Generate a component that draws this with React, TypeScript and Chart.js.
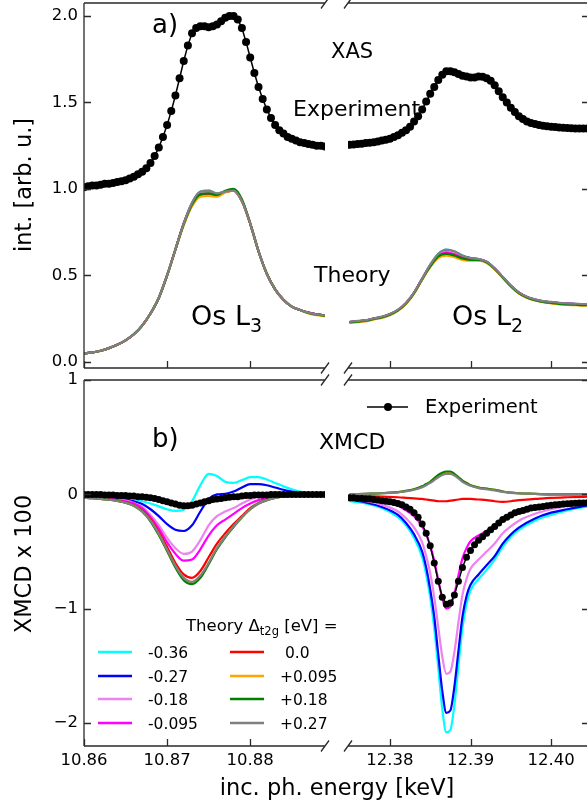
import { useEffect, useRef } from "react";
import { Chart, registerables } from "chart.js";
Chart.register(...registerables);

const OFF = 30;
const CW = 660;
const CH = 865;
const FONT = "'DejaVu Sans', 'Liberation Sans', sans-serif";
const SPINE = "#2a2a2a";

// ---------- sampling grids (keV) ----------
function grid(a: number, step: number, n: number) {
  const out: number[] = [];
  for (let i = 0; i < n; i++) out.push(Math.round((a + i * step) * 1e5) / 1e5);
  return out;
}
const xL3 = grid(10.86, 0.001, 30); // theory L3
const xL2 = grid(12.375, 0.001, 31); // theory XAS L2
const xExpL3 = grid(10.86, 0.0005, 59);
const xExpL2 = grid(12.375, 0.0005, 61);
const xMcdL2 = [12.375, 12.377, 12.379, 12.381, 12.382, 12.383, 12.384, 12.3845, 12.385, 12.3855, 12.386, 12.3865, 12.387, 12.3875, 12.388, 12.3885, 12.389, 12.3895, 12.39, 12.391, 12.392, 12.393, 12.394, 12.395, 12.396, 12.398, 12.4, 12.402, 12.405];

// ---------- tick labels ----------
const xTicksL3 = [10.86, 10.87, 10.88];
const xTicksL2 = [12.38, 12.39, 12.40];
const yTicksXas = [0.0, 0.5, 1.0, 1.5, 2.0];
const yTicksMcd = [1, 0, -1, -2];

// ---------- legend ----------
const thLabels = ["-0.36", "-0.27", "-0.18", "-0.095", " 0.0", "+0.095", "+0.18", "+0.27"];
const thColors = ["#00ffff", "#0000ff", "#ee82ee", "#ff00ff", "#ff0000", "#ffa500", "#008000", "#808080"];

// ---------- XAS experiment ----------
const xasExpL3 = [1.01, 1.015, 1.02, 1.02, 1.025, 1.03, 1.03, 1.035, 1.04, 1.045, 1.05, 1.06, 1.07, 1.085, 1.10, 1.12, 1.15, 1.19, 1.24, 1.30, 1.37, 1.45, 1.54, 1.64, 1.74, 1.83, 1.90, 1.93, 1.94, 1.94, 1.935, 1.94, 1.95, 1.97, 1.99, 2.0, 2.0, 1.98, 1.93, 1.85, 1.76, 1.67, 1.59, 1.52, 1.46, 1.41, 1.37, 1.34, 1.32, 1.30, 1.29, 1.28, 1.27, 1.265, 1.26, 1.255, 1.25, 1.25, 1.245];
const xasExpL2 = [1.255, 1.257, 1.26, 1.262, 1.265, 1.267, 1.27, 1.275, 1.28, 1.285, 1.29, 1.30, 1.31, 1.325, 1.34, 1.36, 1.39, 1.42, 1.46, 1.505, 1.55, 1.59, 1.63, 1.66, 1.68, 1.68, 1.675, 1.665, 1.655, 1.65, 1.645, 1.645, 1.65, 1.648, 1.64, 1.625, 1.60, 1.565, 1.53, 1.50, 1.47, 1.445, 1.42, 1.405, 1.39, 1.382, 1.375, 1.37, 1.365, 1.362, 1.36, 1.358, 1.355, 1.354, 1.352, 1.351, 1.35, 1.35, 1.35, 1.35, 1.35];

// ---------- XAS theory, L3 ----------
const xasL3Cyan = [0.05, 0.055, 0.065, 0.08, 0.10, 0.125, 0.16, 0.21, 0.28, 0.37, 0.50, 0.65, 0.80, 0.92, 0.985, 0.99, 0.975, 0.985, 0.99, 0.93, 0.80, 0.64, 0.51, 0.42, 0.36, 0.32, 0.30, 0.285, 0.275, 0.27];
const xasL3Blue = [0.05, 0.055, 0.065, 0.08, 0.10, 0.125, 0.16, 0.21, 0.28, 0.37, 0.50, 0.65, 0.80, 0.918, 0.98, 0.985, 0.97, 0.983, 0.99, 0.93, 0.80, 0.64, 0.51, 0.42, 0.36, 0.32, 0.30, 0.285, 0.275, 0.27];
const xasL3Violet = [0.05, 0.055, 0.065, 0.08, 0.10, 0.125, 0.16, 0.21, 0.28, 0.37, 0.50, 0.65, 0.80, 0.915, 0.975, 0.98, 0.965, 0.982, 0.99, 0.93, 0.80, 0.64, 0.51, 0.42, 0.36, 0.32, 0.30, 0.285, 0.275, 0.27];
const xasL3Magenta = [0.05, 0.055, 0.065, 0.08, 0.10, 0.125, 0.16, 0.21, 0.28, 0.37, 0.50, 0.65, 0.80, 0.91, 0.965, 0.97, 0.96, 0.982, 0.99, 0.93, 0.80, 0.64, 0.51, 0.42, 0.36, 0.32, 0.30, 0.285, 0.275, 0.27];
const xasL3Red = [0.05, 0.055, 0.065, 0.08, 0.10, 0.125, 0.16, 0.21, 0.28, 0.37, 0.50, 0.65, 0.80, 0.905, 0.96, 0.965, 0.958, 0.982, 0.99, 0.93, 0.80, 0.64, 0.51, 0.42, 0.36, 0.32, 0.30, 0.285, 0.275, 0.27];
const xasL3Orange = [0.05, 0.055, 0.065, 0.08, 0.10, 0.125, 0.16, 0.21, 0.28, 0.37, 0.50, 0.65, 0.79, 0.90, 0.955, 0.96, 0.955, 0.98, 0.99, 0.93, 0.80, 0.64, 0.51, 0.42, 0.36, 0.32, 0.30, 0.28, 0.27, 0.265];
const xasL3Green = [0.05, 0.055, 0.065, 0.08, 0.10, 0.125, 0.16, 0.21, 0.28, 0.37, 0.50, 0.65, 0.795, 0.91, 0.97, 0.975, 0.965, 0.99, 1.0, 0.94, 0.80, 0.64, 0.51, 0.42, 0.36, 0.32, 0.30, 0.283, 0.273, 0.268];
const xasL3Gray = [0.05, 0.055, 0.065, 0.08, 0.10, 0.125, 0.16, 0.21, 0.28, 0.37, 0.50, 0.65, 0.80, 0.92, 0.985, 0.99, 0.975, 0.985, 0.99, 0.93, 0.80, 0.64, 0.51, 0.42, 0.36, 0.32, 0.30, 0.285, 0.275, 0.27];

// ---------- XAS theory, L2 ----------
const xasL2Cyan = [0.23, 0.235, 0.24, 0.25, 0.26, 0.275, 0.30, 0.34, 0.40, 0.48, 0.56, 0.625, 0.65, 0.64, 0.615, 0.60, 0.595, 0.58, 0.54, 0.49, 0.44, 0.40, 0.375, 0.36, 0.35, 0.345, 0.34, 0.337, 0.335, 0.333, 0.332];
const xasL2Blue = [0.23, 0.235, 0.24, 0.25, 0.26, 0.275, 0.30, 0.34, 0.40, 0.48, 0.56, 0.62, 0.645, 0.635, 0.612, 0.60, 0.595, 0.58, 0.54, 0.49, 0.44, 0.40, 0.375, 0.36, 0.35, 0.345, 0.34, 0.337, 0.335, 0.333, 0.332];
const xasL2Violet = [0.23, 0.235, 0.24, 0.25, 0.26, 0.275, 0.30, 0.34, 0.40, 0.48, 0.56, 0.618, 0.64, 0.63, 0.61, 0.598, 0.594, 0.58, 0.54, 0.49, 0.44, 0.40, 0.375, 0.36, 0.35, 0.345, 0.34, 0.337, 0.335, 0.333, 0.332];
const xasL2Magenta = [0.23, 0.235, 0.24, 0.25, 0.26, 0.275, 0.30, 0.34, 0.40, 0.48, 0.555, 0.612, 0.632, 0.622, 0.602, 0.594, 0.592, 0.578, 0.54, 0.49, 0.44, 0.40, 0.375, 0.36, 0.35, 0.345, 0.34, 0.337, 0.335, 0.333, 0.332];
const xasL2Red = [0.23, 0.235, 0.24, 0.25, 0.26, 0.275, 0.30, 0.34, 0.40, 0.478, 0.552, 0.608, 0.627, 0.617, 0.598, 0.59, 0.588, 0.576, 0.538, 0.49, 0.44, 0.40, 0.373, 0.358, 0.348, 0.342, 0.337, 0.334, 0.332, 0.33, 0.33];
const xasL2Orange = [0.225, 0.23, 0.235, 0.245, 0.255, 0.27, 0.295, 0.335, 0.395, 0.475, 0.548, 0.60, 0.615, 0.605, 0.59, 0.585, 0.585, 0.572, 0.535, 0.485, 0.435, 0.395, 0.37, 0.355, 0.345, 0.338, 0.333, 0.33, 0.328, 0.326, 0.325];
const xasL2Green = [0.228, 0.233, 0.238, 0.248, 0.258, 0.273, 0.298, 0.338, 0.398, 0.478, 0.552, 0.61, 0.625, 0.615, 0.598, 0.59, 0.59, 0.576, 0.538, 0.488, 0.438, 0.398, 0.372, 0.357, 0.347, 0.341, 0.336, 0.333, 0.331, 0.329, 0.328];
const xasL2Gray = [0.232, 0.237, 0.242, 0.252, 0.262, 0.277, 0.302, 0.342, 0.402, 0.482, 0.562, 0.625, 0.65, 0.64, 0.615, 0.60, 0.595, 0.58, 0.542, 0.492, 0.442, 0.402, 0.377, 0.362, 0.352, 0.347, 0.342, 0.339, 0.337, 0.335, 0.334];

// ---------- XMCD experiment ----------
const mcdExpL3 = [0.0, 0.0, 0.0, 0.0, 0.0, -0.005, -0.005, -0.005, -0.01, -0.01, -0.01, -0.015, -0.015, -0.02, -0.02, -0.025, -0.03, -0.035, -0.045, -0.055, -0.065, -0.075, -0.085, -0.095, -0.1, -0.1, -0.095, -0.085, -0.075, -0.065, -0.055, -0.045, -0.04, -0.035, -0.03, -0.025, -0.02, -0.02, -0.015, -0.01, -0.01, -0.005, -0.005, -0.005, -0.005, 0.0, 0.0, 0.0, 0.0, 0.0, 0.0, 0.0, 0.0, 0.0, 0.0, 0.0, 0.0, 0.0, 0.0];
const mcdExpL2 = [-0.03, -0.03, -0.035, -0.035, -0.04, -0.04, -0.045, -0.05, -0.055, -0.06, -0.065, -0.07, -0.08, -0.09, -0.11, -0.13, -0.16, -0.2, -0.26, -0.34, -0.45, -0.6, -0.76, -0.9, -0.96, -0.95, -0.88, -0.76, -0.64, -0.55, -0.49, -0.44, -0.4, -0.37, -0.34, -0.31, -0.28, -0.25, -0.22, -0.2, -0.18, -0.16, -0.15, -0.14, -0.13, -0.12, -0.115, -0.11, -0.105, -0.1, -0.095, -0.09, -0.088, -0.085, -0.083, -0.08, -0.078, -0.076, -0.075, -0.074, -0.073];

// ---------- XMCD theory, L3 ----------
const mcdL3Cyan = [-0.01, -0.01, -0.015, -0.02, -0.025, -0.03, -0.04, -0.06, -0.08, -0.105, -0.13, -0.145, -0.135, -0.06, 0.08, 0.18, 0.16, 0.11, 0.10, 0.125, 0.15, 0.15, 0.13, 0.10, 0.07, 0.045, 0.025, 0.012, 0.005, 0.0];
const mcdL3Blue = [-0.02, -0.022, -0.025, -0.03, -0.035, -0.045, -0.06, -0.085, -0.13, -0.19, -0.26, -0.31, -0.32, -0.27, -0.15, -0.04, 0.0, 0.005, 0.025, 0.06, 0.09, 0.09, 0.08, 0.06, 0.04, 0.025, 0.012, 0.006, 0.002, 0.0];
const mcdL3Violet = [-0.025, -0.028, -0.032, -0.038, -0.045, -0.055, -0.075, -0.11, -0.18, -0.27, -0.38, -0.47, -0.52, -0.5, -0.4, -0.27, -0.19, -0.15, -0.12, -0.08, -0.045, -0.02, -0.01, -0.005, 0.0, 0.0, 0.0, 0.0, 0.0, 0.0];
const mcdL3Magenta = [-0.025, -0.03, -0.035, -0.04, -0.05, -0.06, -0.08, -0.12, -0.2, -0.3, -0.42, -0.52, -0.58, -0.57, -0.48, -0.36, -0.27, -0.22, -0.17, -0.12, -0.08, -0.05, -0.03, -0.02, -0.012, -0.007, -0.004, -0.002, -0.001, 0.0];
const mcdL3Red = [-0.03, -0.033, -0.038, -0.045, -0.055, -0.07, -0.095, -0.14, -0.22, -0.33, -0.46, -0.6, -0.7, -0.73, -0.67, -0.55, -0.43, -0.34, -0.26, -0.19, -0.12, -0.075, -0.045, -0.028, -0.017, -0.01, -0.006, -0.003, -0.001, 0.0];
const mcdL3Orange = [-0.03, -0.034, -0.04, -0.047, -0.058, -0.073, -0.1, -0.15, -0.23, -0.35, -0.49, -0.63, -0.74, -0.775, -0.72, -0.6, -0.47, -0.37, -0.28, -0.2, -0.13, -0.08, -0.05, -0.03, -0.018, -0.01, -0.006, -0.003, -0.001, 0.0];
const mcdL3Green = [-0.03, -0.034, -0.04, -0.047, -0.058, -0.073, -0.1, -0.15, -0.235, -0.355, -0.495, -0.64, -0.75, -0.785, -0.73, -0.61, -0.48, -0.375, -0.285, -0.2, -0.13, -0.08, -0.05, -0.03, -0.018, -0.01, -0.006, -0.003, -0.001, 0.0];
const mcdL3Gray = [-0.03, -0.034, -0.04, -0.047, -0.058, -0.073, -0.1, -0.15, -0.23, -0.345, -0.485, -0.625, -0.73, -0.765, -0.71, -0.6, -0.47, -0.37, -0.28, -0.2, -0.13, -0.08, -0.05, -0.03, -0.018, -0.01, -0.006, -0.003, -0.001, 0.0];

// ---------- XMCD theory, L2 ----------
const mcdL2Cyan = [-0.06, -0.08, -0.12, -0.2, -0.27, -0.38, -0.55, -0.7, -0.9, -1.17, -1.52, -1.88, -2.08, -2.06, -1.84, -1.5, -1.17, -0.96, -0.84, -0.74, -0.66, -0.57, -0.46, -0.37, -0.31, -0.23, -0.18, -0.14, -0.1];
const mcdL2Blue = [-0.05, -0.07, -0.11, -0.18, -0.25, -0.35, -0.5, -0.64, -0.83, -1.07, -1.4, -1.72, -1.91, -1.89, -1.68, -1.37, -1.07, -0.89, -0.79, -0.7, -0.62, -0.54, -0.43, -0.35, -0.29, -0.21, -0.16, -0.13, -0.09];
const mcdL2Violet = [-0.05, -0.06, -0.09, -0.15, -0.21, -0.29, -0.42, -0.54, -0.69, -0.9, -1.16, -1.42, -1.57, -1.55, -1.38, -1.12, -0.88, -0.74, -0.65, -0.57, -0.5, -0.43, -0.34, -0.28, -0.23, -0.17, -0.13, -0.1, -0.075];
const mcdL2Magenta = [-0.04, -0.05, -0.07, -0.1, -0.14, -0.19, -0.28, -0.35, -0.45, -0.58, -0.75, -0.91, -1.0, -0.98, -0.87, -0.71, -0.56, -0.47, -0.41, -0.36, -0.32, -0.28, -0.22, -0.18, -0.15, -0.11, -0.09, -0.075, -0.06];
const mcdL2Red = [-0.01, -0.015, -0.02, -0.025, -0.03, -0.035, -0.04, -0.045, -0.05, -0.055, -0.06, -0.06, -0.06, -0.055, -0.05, -0.045, -0.04, -0.04, -0.04, -0.045, -0.05, -0.06, -0.065, -0.06, -0.05, -0.04, -0.03, -0.025, -0.02];
const mcdL2Orange = [0.0, 0.005, 0.01, 0.02, 0.03, 0.045, 0.07, 0.09, 0.11, 0.14, 0.165, 0.185, 0.195, 0.195, 0.175, 0.15, 0.12, 0.1, 0.08, 0.06, 0.05, 0.04, 0.025, 0.015, 0.01, 0.005, 0.0, 0.0, 0.0];
const mcdL2Green = [0.0, 0.005, 0.01, 0.02, 0.03, 0.045, 0.07, 0.09, 0.11, 0.14, 0.17, 0.19, 0.2, 0.2, 0.18, 0.15, 0.12, 0.1, 0.08, 0.06, 0.05, 0.04, 0.025, 0.015, 0.01, 0.005, 0.0, 0.0, 0.0];
const mcdL2Gray = [0.0, 0.005, 0.01, 0.018, 0.027, 0.04, 0.063, 0.08, 0.1, 0.125, 0.15, 0.17, 0.18, 0.18, 0.165, 0.14, 0.11, 0.09, 0.075, 0.055, 0.045, 0.035, 0.022, 0.013, 0.008, 0.004, 0.0, 0.0, 0.0];

const xasL3Theory = [xasL3Cyan, xasL3Blue, xasL3Violet, xasL3Magenta, xasL3Red, xasL3Orange, xasL3Green, xasL3Gray];
const xasL2Theory = [xasL2Cyan, xasL2Blue, xasL2Violet, xasL2Magenta, xasL2Red, xasL2Orange, xasL2Green, xasL2Gray];
const mcdL3Theory = [mcdL3Cyan, mcdL3Blue, mcdL3Violet, mcdL3Magenta, mcdL3Red, mcdL3Orange, mcdL3Green, mcdL3Gray];
const mcdL2Theory = [mcdL2Cyan, mcdL2Blue, mcdL2Violet, mcdL2Magenta, mcdL2Red, mcdL2Orange, mcdL2Green, mcdL2Gray];

// ---------- dataset helpers ----------
function theoryDatasets(xs: number[], series: number[][]) {
  return series.map((ys, i) => ({
    data: xs.map((x, j) => ({ x, y: ys[j] })),
    borderColor: thColors[i],
    backgroundColor: thColors[i],
    borderWidth: 2.2,
    pointRadius: 0,
    fill: false,
    cubicInterpolationMode: "monotone",
    order: 8 - i,
  }));
}
function expDataset(xs: number[], ys: number[], r: number) {
  return {
    data: xs.map((x, j) => ({ x, y: ys[j] })),
    borderColor: "#000",
    backgroundColor: "#000",
    borderWidth: 1.5,
    pointRadius: r,
    pointBorderWidth: 0,
    pointBackgroundColor: "#000",
    fill: false,
    order: 0,
  };
}

type Area = { l: number; t: number; r: number; b: number };
const YW = 50;
const XH = 40;

function framePlugin(side: "left" | "right", tickVals: number[], xTickVals: number[]) {
  return {
    id: "frame" + side,
    afterDraw(chart: any) {
      const { ctx, chartArea: ca } = chart;
      const xs = chart.scales.x;
      const ys = chart.scales.y;
      ctx.save();
      ctx.strokeStyle = SPINE;
      ctx.lineWidth = 1.3;
      ctx.lineCap = "butt";
      ctx.beginPath();
      ctx.moveTo(ca.left, ca.top);
      ctx.lineTo(ca.right, ca.top);
      ctx.moveTo(ca.left, ca.bottom);
      ctx.lineTo(ca.right, ca.bottom);
      const sx = side === "left" ? ca.left : ca.right;
      ctx.moveTo(sx, ca.top);
      ctx.lineTo(sx, ca.bottom);
      const dir = side === "left" ? 1 : -1;
      for (const v of tickVals) {
        const py = Math.round(ys.getPixelForValue(v)) + 0.5;
        ctx.moveTo(sx, py);
        ctx.lineTo(sx + dir * 7, py);
      }
      for (const v of xTickVals) {
        const px = Math.round(xs.getPixelForValue(v)) + 0.5;
        ctx.moveTo(px, ca.bottom);
        ctx.lineTo(px, ca.bottom - 7);
      }
      const bx = side === "left" ? ca.right : ca.left;
      for (const y of [ca.top, ca.bottom]) {
        ctx.moveTo(bx - 4, y + 5.5);
        ctx.lineTo(bx + 4, y - 5.5);
      }
      ctx.stroke();
      ctx.restore();
    },
  };
}

function richText(ctx: CanvasRenderingContext2D, parts: [string, number, number][], x: number, y: number) {
  let cx = x + OFF;
  for (const [s, size, dy] of parts) {
    ctx.font = `${size}px ${FONT}`;
    ctx.fillText(s, cx, y + OFF + dy);
    cx += ctx.measureText(s).width;
  }
}

const annotPlugin = {
  id: "annot",
  afterDraw(chart: any) {
    const ctx: CanvasRenderingContext2D = chart.ctx;
    ctx.save();
    ctx.fillStyle = "#000";
    ctx.textBaseline = "alphabetic";
    ctx.textAlign = "left";
    richText(ctx, [["a)", 26, 0]], 152, 33);
    richText(ctx, [["b)", 26, 0]], 152, 447);
    richText(ctx, [["XAS", 21, 0]], 331, 58);
    richText(ctx, [["Experiment", 22, 0]], 293, 116);
    richText(ctx, [["Theory", 22, 0]], 314, 282);
    richText(ctx, [["XMCD", 22, 0]], 319, 449);
    richText(ctx, [["Os L", 27, 0], ["3", 19, 7]], 191, 325);
    richText(ctx, [["Os L", 27, 0], ["2", 19, 7]], 452, 325);
    // theory legend
    richText(ctx, [["Theory \u0394", 16.5, 0], ["t2g", 11.5, 4], [" [eV] =", 16.5, 0]], 186, 631);
    const rows = [652, 676, 699, 723];
    for (let i = 0; i < 8; i++) {
      const col = i < 4 ? 0 : 1;
      const cy = rows[i % 4];
      const lx = col === 0 ? 98 : 230;
      ctx.strokeStyle = thColors[i];
      ctx.lineWidth = 2.5;
      ctx.beginPath();
      ctx.moveTo(lx + OFF, cy + OFF);
      ctx.lineTo(lx + 34 + OFF, cy + OFF);
      ctx.stroke();
      ctx.fillStyle = "#000";
      richText(ctx, [[thLabels[i], 15.5, 0]], col === 0 ? 148 : 280, cy + 5.5);
    }
    // experiment legend
    ctx.strokeStyle = "#000";
    ctx.lineWidth = 1.5;
    ctx.beginPath();
    ctx.moveTo(367 + OFF, 407 + OFF);
    ctx.lineTo(408 + OFF, 407 + OFF);
    ctx.stroke();
    ctx.beginPath();
    ctx.arc(388 + OFF, 407 + OFF, 4, 0, Math.PI * 2);
    ctx.fill();
    richText(ctx, [["Experiment", 19.5, 0]], 425, 413);
    // axis titles
    ctx.font = `22.5px ${FONT}`;
    ctx.textAlign = "center";
    ctx.fillText("inc. ph. energy [keV]", 337 + OFF, 795 + OFF);
    for (const [s, cy] of [["int. [arb. u.]", 185], ["XMCD x 100", 564]] as [string, number][]) {
      ctx.save();
      ctx.translate(31 + OFF, cy + OFF);
      ctx.rotate(-Math.PI / 2);
      ctx.fillText(s, 0, 0);
      ctx.restore();
    }
    ctx.restore();
  },
};

function makeConfig(opts: {
  datasets: any[];
  xMin: number;
  xMax: number;
  yMin: number;
  yMax: number;
  yStep: number;
  yTicks: number[];
  yFmt: (v: number) => string;
  xTicks: number[];
  side: "left" | "right";
  showX: boolean;
  area: Area;
  extra?: any[];
}) {
  const { area, side, showX } = opts;
  const padding = {
    left: side === "left" ? area.l + OFF - YW : area.l + OFF,
    right: CW - (area.r + OFF),
    top: area.t + OFF,
    bottom: CH - (area.b + OFF) - (showX ? XH : 0),
  };
  return {
    type: "line",
    data: { datasets: opts.datasets },
    options: {
      animation: false,
      responsive: false,
      maintainAspectRatio: false,
      devicePixelRatio: 1,
      events: [],
      layout: { padding },
      plugins: { legend: { display: false }, tooltip: { enabled: false } },
      scales: {
        x: {
          type: "linear",
          position: "bottom",
          min: opts.xMin,
          max: opts.xMax,
          grid: { display: false, drawTicks: false },
          border: { display: false },
          ticks: {
            display: showX,
            stepSize: 0.01,
            includeBounds: false,
            autoSkip: false,
            maxRotation: 0,
            padding: 5,
            color: "#000",
            font: { family: FONT, size: 16.5 },
            callback: (v: number) => Number(v).toFixed(2),
          },
          afterFit: (s: any) => {
            s.height = showX ? XH : 0;
          },
        },
        y: {
          type: "linear",
          position: side,
          min: opts.yMin,
          max: opts.yMax,
          grid: { display: false, drawTicks: false },
          border: { display: false },
          ticks: {
            display: side === "left",
            stepSize: opts.yStep,
            includeBounds: false,
            autoSkip: false,
            padding: 6,
            color: "#000",
            font: { family: FONT, size: 16.5 },
            callback: (v: number) => opts.yFmt(Number(v)),
          },
          afterFit: (s: any) => {
            s.width = side === "left" ? YW : 0;
          },
        },
      },
    },
    plugins: [framePlugin(side, opts.yTicks, opts.xTicks), ...(opts.extra || [])],
  };
}

const fmtXas = (v: number) => v.toFixed(1);
const fmtMcd = (v: number) => (v < 0 ? "\u2212" + Math.abs(Math.round(v)) : String(Math.round(v)));

const X_L3 = { xMin: 10.86, xMax: 10.889 };
const X_L2 = { xMin: 12.3748, xMax: 12.4047 };
const Y_XAS = { yMin: -0.035, yMax: 2.075, yStep: 0.5 };
const Y_MCD = { yMin: -2.2, yMax: 1.0, yStep: 1 };

export default function App() {
  const r1 = useRef<HTMLCanvasElement>(null);
  const r2 = useRef<HTMLCanvasElement>(null);
  const r3 = useRef<HTMLCanvasElement>(null);
  const r4 = useRef<HTMLCanvasElement>(null);

  useEffect(() => {
    const charts: Chart[] = [];
    const c1 = makeConfig({
      datasets: [expDataset(xExpL3, xasExpL3, 4), ...theoryDatasets(xL3, xasL3Theory)],
      ...X_L3,
      ...Y_XAS,
      yTicks: yTicksXas,
      yFmt: fmtXas,
      xTicks: xTicksL3,
      side: "left",
      showX: false,
      area: { l: 84, t: 3, r: 325, b: 368 },
    });
    const c2 = makeConfig({
      datasets: [expDataset(xExpL2, xasExpL2, 4), ...theoryDatasets(xL2, xasL2Theory)],
      ...X_L2,
      ...Y_XAS,
      yTicks: yTicksXas,
      yFmt: fmtXas,
      xTicks: xTicksL2,
      side: "right",
      showX: false,
      area: { l: 348, t: 3, r: 589, b: 368 },
    });
    const c3 = makeConfig({
      datasets: [expDataset(xExpL3, mcdExpL3, 3.5), ...theoryDatasets(xL3, mcdL3Theory)],
      ...X_L3,
      ...Y_MCD,
      yTicks: yTicksMcd,
      yFmt: fmtMcd,
      xTicks: xTicksL3,
      side: "left",
      showX: true,
      area: { l: 84, t: 380, r: 325, b: 746 },
    });
    const c4 = makeConfig({
      datasets: [expDataset(xExpL2, mcdExpL2, 3.5), ...theoryDatasets(xMcdL2, mcdL2Theory)],
      ...X_L2,
      ...Y_MCD,
      yTicks: yTicksMcd,
      yFmt: fmtMcd,
      xTicks: xTicksL2,
      side: "right",
      showX: true,
      area: { l: 348, t: 380, r: 589, b: 746 },
      extra: [annotPlugin],
    });
    [
      [r1, c1],
      [r2, c2],
      [r3, c3],
      [r4, c4],
    ].forEach(([r, c]: any) => {
      if (r.current) charts.push(new Chart(r.current, c as any));
    });
    return () => charts.forEach((c) => c.destroy());
  }, []);

  const cs: any = { position: "absolute", left: -OFF, top: -OFF, width: CW, height: CH };
  return (
    <div style={{ position: "absolute", left: 0, top: 0, width: 587, height: 805, overflow: "hidden", background: "#fff" }}>
      <canvas ref={r1} width={CW} height={CH} style={cs} />
      <canvas ref={r2} width={CW} height={CH} style={cs} />
      <canvas ref={r3} width={CW} height={CH} style={cs} />
      <canvas ref={r4} width={CW} height={CH} style={cs} />
    </div>
  );
}
